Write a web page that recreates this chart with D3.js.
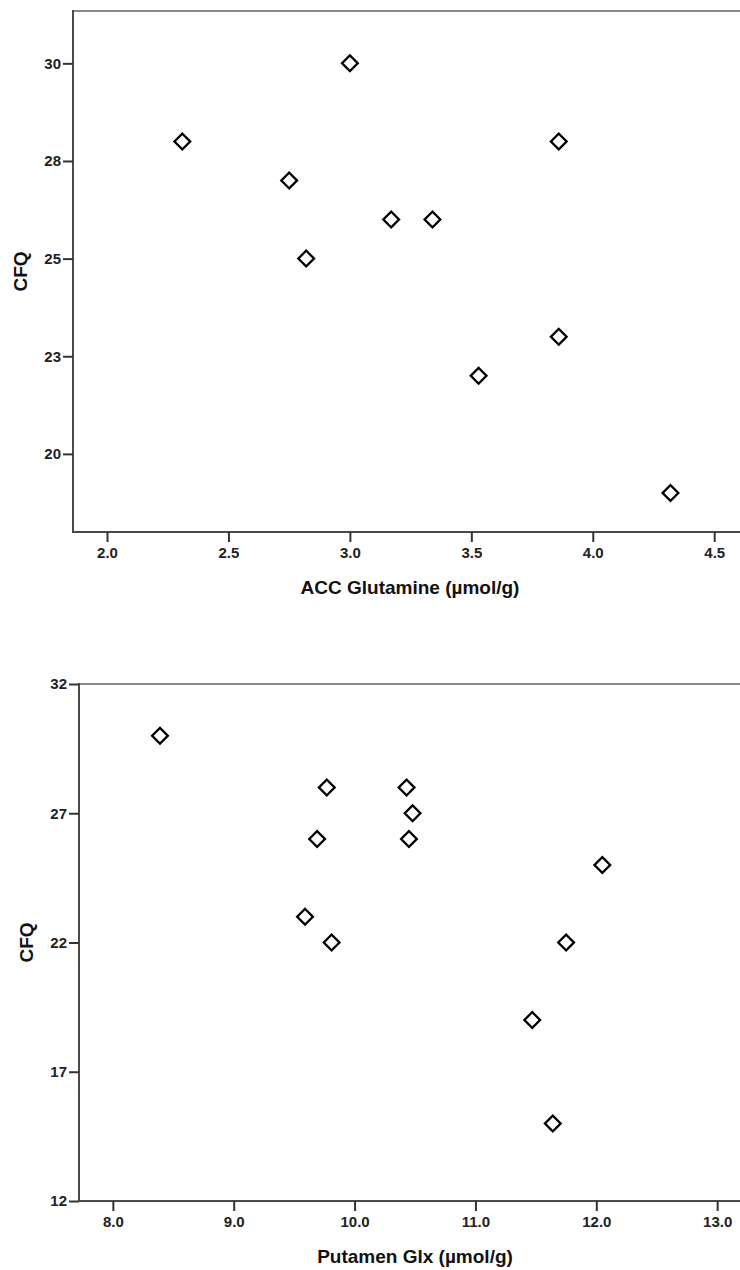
<!DOCTYPE html>
<html>
<head>
<meta charset="utf-8">
<script src="https://cdn.jsdelivr.net/npm/d3@7"></script>
<style>
  body { margin: 0; background: #fff; }
  svg { display: block; font-family: "Liberation Sans", Arial, sans-serif; }
</style>
</head>
<body>
<svg width="740" height="1270"></svg>
<script>
// chart 1: ACC glutamine vs CFQ
var accGlutamine = [2.31, 3.00, 2.75, 2.82, 3.17, 3.34, 3.86, 3.86, 3.53, 4.32];
var accCFQ       = [28,   30,   27,   25,   26,   26,   28,   23,   22,   19];
var accXTicks = [2.0, 2.5, 3.0, 3.5, 4.0, 4.5];
var accXTickLabels = ["2.0", "2.5", "3.0", "3.5", "4.0", "4.5"];
var accYTicks = [20, 22.5, 25, 27.5, 30];
var accYTickLabels = ["20", "23", "25", "28", "30"];

// chart 2: putamen Glx vs CFQ
var putGlx = [8.39, 9.77, 9.69, 9.59, 9.81, 10.43, 10.48, 10.45, 12.05, 11.75, 11.47, 11.64];
var putCFQ = [30,   28,   26,   23,   22,   28,    27,    26,    25,    22,    19,    15];
var putXTicks = [8, 9, 10, 11, 12, 13];
var putXTickLabels = ["8.0", "9.0", "10.0", "11.0", "12.0", "13.0"];
var putYTicks = [12, 17, 22, 27, 32];
var putYTickLabels = ["12", "17", "22", "27", "32"];

var svg = d3.select("svg");

function scatter(opts) {
  var x = d3.scaleLinear().domain(opts.xDomain).range([opts.left, opts.right]);
  var y = d3.scaleLinear().domain(opts.yDomain).range([opts.bottom, opts.top]);
  var g = svg.append("g");

  // frame: top border in lighter grey
  g.append("line")
    .attr("x1", opts.left).attr("x2", opts.right)
    .attr("y1", opts.top).attr("y2", opts.top)
    .attr("stroke", "#8a8a8a").attr("stroke-width", 2);
  g.append("line")
    .attr("x1", opts.right).attr("x2", opts.right)
    .attr("y1", opts.top).attr("y2", opts.bottom)
    .attr("stroke", "#8a8a8a").attr("stroke-width", 2);

  var xAxis = d3.axisBottom(x)
    .tickValues(opts.xTicks)
    .tickFormat(function(d, i) { return opts.xLabels[i]; })
    .tickSize(10).tickPadding(5).tickSizeOuter(0);
  var yAxis = d3.axisLeft(y)
    .tickValues(opts.yTicks)
    .tickFormat(function(d, i) { return opts.yLabels[i]; })
    .tickSize(10).tickPadding(2).tickSizeOuter(0);

  var gx = g.append("g")
    .attr("transform", "translate(0," + opts.bottom + ")")
    .call(xAxis);
  var gy = g.append("g")
    .attr("transform", "translate(" + opts.left + ",0)")
    .call(yAxis);

  [gx, gy].forEach(function(a) {
    a.select(".domain").attr("stroke", "#4a4a4a").attr("stroke-width", 2);
    a.selectAll(".tick line").attr("stroke", "#333").attr("stroke-width", 2);
    a.selectAll(".tick text")
      .attr("fill", "#222")
      .attr("font-size", "15px")
      .attr("font-weight", "bold");
  });
  // stretch the domain lines so they meet at the corner
  gx.select(".domain").attr("d", "M" + (opts.left - 1) + ",0H" + opts.right);
  gy.select(".domain").attr("d", "M0," + (opts.top - 1) + "V" + (opts.bottom + 1));

  var diamond = d3.symbol().type(d3.symbolSquare).size(124);
  g.selectAll("path.pt")
    .data(opts.xs)
    .enter().append("path")
    .attr("class", "pt")
    .attr("d", diamond)
    .attr("transform", function(d, i) {
      return "translate(" + x(d) + "," + y(opts.ys[i]) + ") rotate(45)";
    })
    .attr("fill", "#fff")
    .attr("stroke", "#000")
    .attr("stroke-width", 2.3);

  g.append("text")
    .attr("x", (opts.left + opts.right) / 2)
    .attr("y", opts.xTitleY)
    .attr("text-anchor", "middle")
    .attr("font-size", "19px")
    .attr("font-weight", "bold")
    .attr("fill", "#111")
    .text(opts.xTitle);

  g.append("text")
    .attr("transform", "translate(" + opts.yTitleX + "," + ((opts.top + opts.bottom) / 2) + ") rotate(-90)")
    .attr("text-anchor", "middle")
    .attr("font-size", "19px")
    .attr("font-weight", "bold")
    .attr("fill", "#111")
    .text(opts.yTitle);
}

scatter({
  xs: accGlutamine, ys: accCFQ,
  xDomain: [1.86, 4.635], yDomain: [18, 31.34],
  left: 73, right: 747, top: 11, bottom: 532,
  xTicks: accXTicks, xLabels: accXTickLabels,
  yTicks: accYTicks, yLabels: accYTickLabels,
  xTitle: "ACC Glutamine (\u00b5mol/g)", xTitleY: 594,
  yTitle: "CFQ", yTitleX: 27
});

scatter({
  xs: putGlx, ys: putCFQ,
  xDomain: [7.72, 13.28], yDomain: [12, 32],
  left: 79, right: 751, top: 684, bottom: 1201,
  xTicks: putXTicks, xLabels: putXTickLabels,
  yTicks: putYTicks, yLabels: putYTickLabels,
  xTitle: "Putamen Glx (\u00b5mol/g)", xTitleY: 1263,
  yTitle: "CFQ", yTitleX: 33
});
</script>
</body>
</html>
